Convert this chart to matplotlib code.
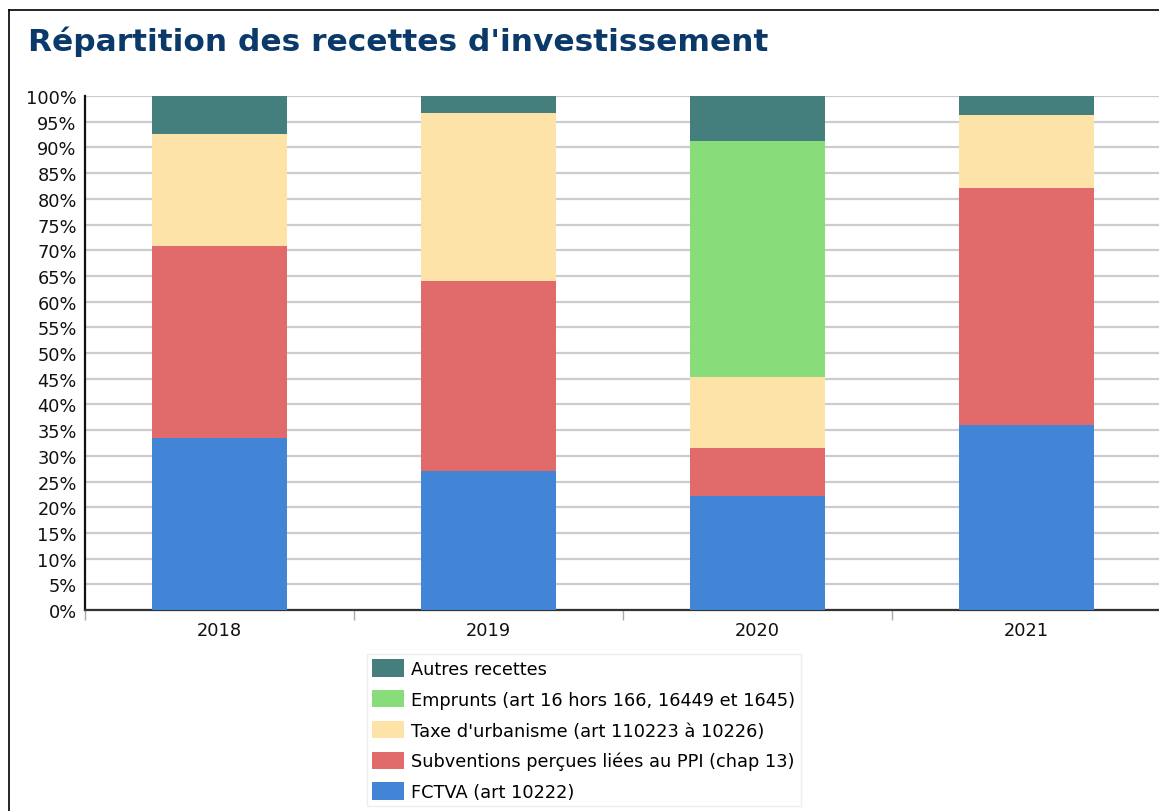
import matplotlib.pyplot as plt
import numpy as np
from matplotlib.lines import Line2D

plt.rcParams['font.family'] = ['DejaVu Sans']

annees = ["2018", "2019", "2020", "2021"]
# parts en %
fctva = [33.5, 27.0, 22.1, 35.9]
subventions = [37.3, 37.0, 9.5, 46.2]
taxe = [21.8, 32.7, 13.7, 14.3]
emprunts = [0.0, 0.0, 46.0, 0.0]
autres = [7.4, 3.3, 8.7, 3.6]

noms = ["FCTVA (art 10222)",
        "Subventions perçues liées au PPI (chap 13)",
        "Taxe d'urbanisme (art 110223 à 10226)",
        "Emprunts (art 16 hors 166, 16449 et 1645)",
        "Autres recettes"]
couleurs = ["#4284d6", "#e16b6b", "#fde3a7", "#88dd7a", "#447f7e"]
series = [fctva, subventions, taxe, emprunts, autres]

fs = 12.8

fig = plt.figure(figsize=(11.59, 8.12), dpi=100)
W, H = 1159, 812
ax = fig.add_axes([85 / W, (H - 611) / H, (1161 - 85) / W, (611 - 97) / H])

x = np.arange(len(annees))
bas = np.zeros(len(annees))
handles = []
for vals, nom, c in zip(series, noms, couleurs):
    b = ax.bar(x, vals, width=0.5, bottom=bas, color=c, label=nom, zorder=3)
    handles.append(b)
    bas += np.array(vals)

ax.set_xlim(-0.5, len(annees) - 0.5)
ax.set_ylim(0, 100)
ax.set_yticks(np.arange(0, 101, 5))
ax.set_yticklabels([f"{v}%" for v in range(0, 101, 5)], fontsize=fs, color="#111111")
ax.yaxis.grid(True, color="#cccccc", linewidth=1.6, zorder=0)
ax.tick_params(axis="y", length=0, pad=6)

ax.set_xticks(x)
ax.set_xticklabels(annees, fontsize=fs, color="#111111")
ax.set_xticks(np.arange(-0.5, len(annees), 1), minor=True)
ax.tick_params(axis="x", which="major", length=0, pad=8)
ax.tick_params(axis="x", which="minor", length=7, color="#aaaaaa", width=1)

for s in ["top", "right"]:
    ax.spines[s].set_visible(False)
ax.spines["left"].set_linewidth(1.6)
ax.spines["left"].set_color("#111111")
ax.spines["bottom"].set_linewidth(1.6)
ax.spines["bottom"].set_color("#333333")

fig.text(28 / W, 1 - 42 / H, "Répartition des recettes d'investissement",
         fontsize=22.5, fontweight="bold", color="#0b3a6a", va="center")

# cadre autour du graphique
fig.add_artist(Line2D([9 / W, 9 / W], [0, 1 - 11 / H], color="black", lw=1.2))
fig.add_artist(Line2D([9 / W, 1], [1 - 11 / H, 1 - 11 / H], color="black", lw=1.2))

leg = fig.legend(handles[::-1], noms[::-1], loc="upper left",
                 bbox_to_anchor=(367 / W, 1 - 655 / H), borderaxespad=0,
                 fontsize=fs, handlelength=1.8, handleheight=1.12,
                 labelspacing=0.68, handletextpad=0.4, borderpad=0.3,
                 fancybox=False, framealpha=1, edgecolor="#eeeeee")

fig.savefig("out.png", dpi=100)
